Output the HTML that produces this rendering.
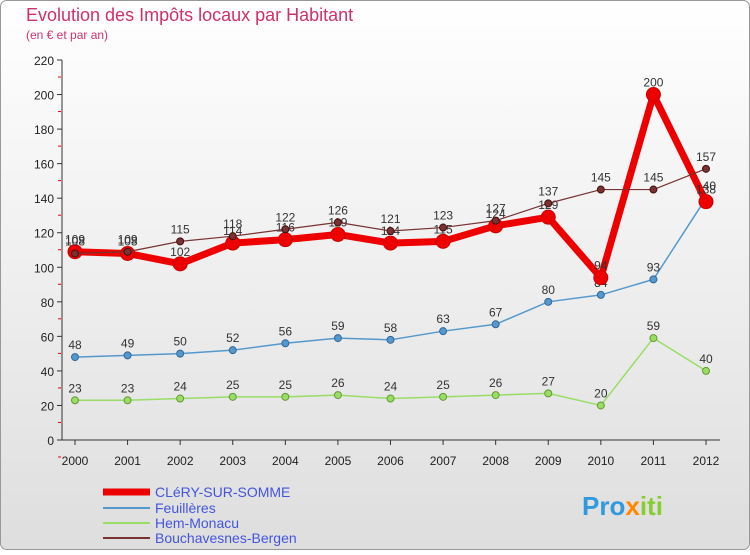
<!DOCTYPE html>
<html><head><meta charset="utf-8"><style>
body{margin:0;width:750px;height:550px;overflow:hidden;font-family:"Liberation Sans",sans-serif}
svg text{font-family:"Liberation Sans",sans-serif}
</style></head><body>
<svg width="750" height="550" xmlns="http://www.w3.org/2000/svg">
<defs><linearGradient id="bg" x1="0" y1="0" x2="0" y2="1"><stop offset="0" stop-color="#ffffff"/><stop offset="1" stop-color="#dedede"/></linearGradient></defs>
<rect x="0.5" y="0.5" width="749" height="549" rx="6" fill="url(#bg)" stroke="#999"/>
<text x="26" y="21" font-size="18" fill="#d0306a">Evolution des Impôts locaux par Habitant</text>
<text x="26" y="39" font-size="12" fill="#d0306a">(en € et par an)</text>
<g id="axes"></g><g id="series"></g>
<g>
<line x1="103" y1="492" x2="150" y2="492" stroke="#ee0000" stroke-width="7"/>
<text x="155" y="497" font-size="14" fill="#4455dd">CLéRY-SUR-SOMME</text>
<line x1="103" y1="508" x2="150" y2="508" stroke="#5599cc" stroke-width="2"/>
<text x="155" y="513" font-size="14" fill="#4455dd">Feuillères</text>
<line x1="103" y1="523" x2="150" y2="523" stroke="#99dd66" stroke-width="2"/>
<text x="155" y="528" font-size="14" fill="#4455dd">Hem-Monacu</text>
<line x1="103" y1="538" x2="150" y2="538" stroke="#773333" stroke-width="2"/>
<text x="155" y="543" font-size="14" fill="#4455dd">Bouchavesnes-Bergen</text>
</g>
<text x="582" y="515" font-size="26" font-weight="bold" fill="#3399dd">Pro<tspan fill="#ff8800">x</tspan><tspan fill="#88cc33">iti</tspan></text>
</svg>
<script>
const years=[2000,2001,2002,2003,2004,2005,2006,2007,2008,2009,2010,2011,2012];
const yTicks=[0,20,40,60,80,100,120,140,160,180,200,220];
const clery=[109,108,102,114,116,119,114,115,124,129,94,200,138];
const feuilleres=[48,49,50,52,56,59,58,63,67,80,84,93,140];
const hem=[23,23,24,25,25,26,24,25,26,27,20,59,40];
const bouch=[108,109,115,118,122,126,121,123,127,137,145,145,157];
const NS="http://www.w3.org/2000/svg";
const xS=i=>75+i*(706-75)/(years.length-1);
const yS=v=>440-v*380/220;
function mk(t,a,p){const e=document.createElementNS(NS,t);for(const k in a)e.setAttribute(k,a[k]);p.appendChild(e);return e;}
const ax=document.getElementById('axes'),se=document.getElementById('series');
const yl=mk('line',{x1:62,y1:60,x2:62,y2:440,stroke:'#333'},ax);


const xl=mk('line',{x1:62,y1:440,x2:720,y2:440,stroke:'#333'},ax);


yTicks.forEach(v=>{const y=yS(v);
mk('line',{x1:57,y1:y,x2:62,y2:y,stroke:'#333'},ax);
mk('line',{x1:58,y1:y+17,x2:61,y2:y+17,stroke:'#e00'},ax);
const t=mk('text',{x:54,y:y+5,'text-anchor':'end','font-size':12,fill:'#222'},ax);t.textContent=v;

});
years.forEach((yr,i)=>{const x=xS(i);
mk('line',{x1:x,y1:440,x2:x,y2:445,stroke:'#333'},ax);
const t=mk('text',{x:x,y:465,'text-anchor':'middle','font-size':12,fill:'#222'},ax);t.textContent=yr;

});
function draw(d,name,col,w,r,stroke){const g=mk('g',{},se);


const pl=mk('polyline',{points:d.map((v,i)=>xS(i)+','+yS(v)).join(' '),fill:'none',stroke:col,'stroke-width':w,'stroke-linejoin':'round'},g);


d.forEach((v,i)=>{const c=mk('circle',{cx:xS(i),cy:yS(v),r:r,fill:col,stroke:stroke,'stroke-width':1},g);


const t=mk('text',{x:xS(i),y:yS(v)-8,'text-anchor':'middle','font-size':12,fill:'#333'},g);t.textContent=v;

});}
draw(hem,'hem-monacu','#99dd66',1.5,3.5,'#669933');
draw(feuilleres,'feuilleres','#5599cc',1.5,3.5,'#336699');
draw(clery,'clery','#ee0000',7,7,'#cc0000');
draw(bouch,'bouchavesnes','#773333',1.2,3.5,'#441111');
</script>
</body></html>
